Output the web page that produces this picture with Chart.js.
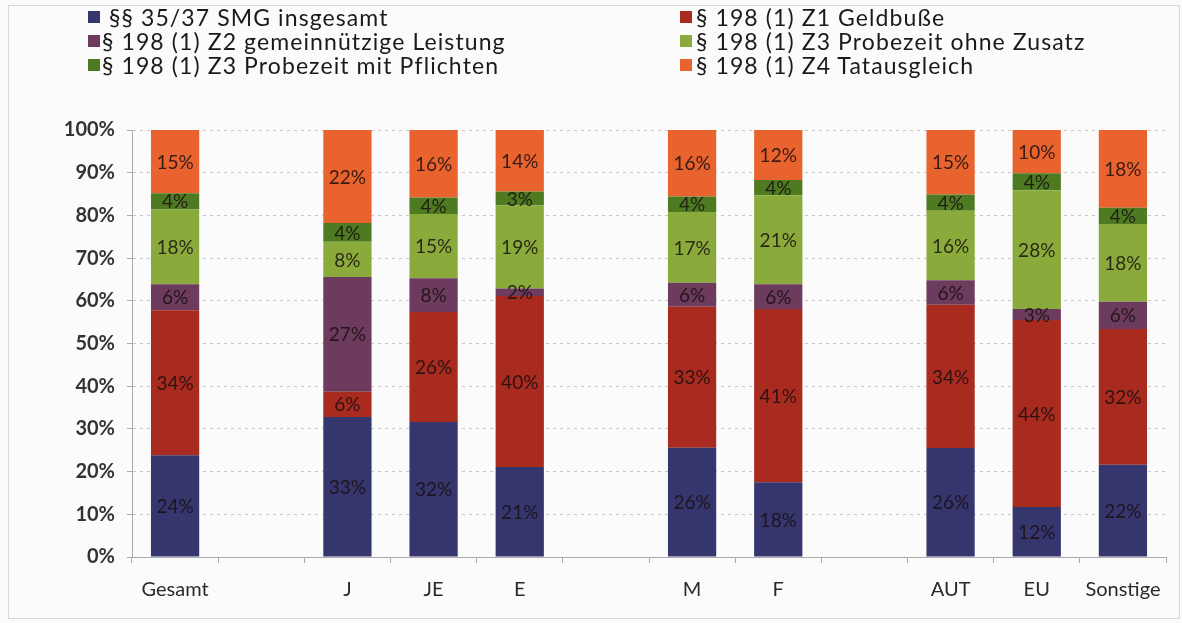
<!DOCTYPE html>
<html><head><meta charset="utf-8">
<script src="https://cdn.jsdelivr.net/npm/chart.js@4/dist/chart.umd.min.js"></script>
<style>
html,body{margin:0;padding:0;background:#fbfbfb;}
#wrap{position:relative;width:1182px;height:623px;overflow:hidden;}
#frame{position:absolute;left:8px;top:5px;width:1172px;height:614px;border:1px solid #d8d8d8;box-sizing:border-box;pointer-events:none;}
#legend{position:absolute;left:0;top:0;width:1182px;height:100px;font-family:Lato,"Open Sans",sans-serif;font-size:23px;letter-spacing:1.1px;color:#1a1a1a;}
.li{position:absolute;height:24px;line-height:24px;white-space:pre;}
.sw{position:absolute;width:12px;height:12px;top:6px;}
.tx{position:absolute;top:0;}
canvas{position:absolute;left:0;top:0;}
</style></head>
<body><div id="wrap"><canvas id="c" width="1182" height="623"></canvas><div id="legend"></div><div id="frame"></div></div>
<script>
const categories = ["Gesamt","","J","JE","E","","M","F","","AUT","EU","Sonstige"];
const seriesNames = [" §§ 35/37 SMG insgesamt","§ 198 (1) Z1 Geldbuße","§ 198 (1) Z2 gemeinnützige Leistung","§ 198 (1) Z3 Probezeit ohne Zusatz","§ 198 (1) Z3 Probezeit mit Pflichten","§ 198 (1) Z4 Tatausgleich"];
const smg      = [23.8,null,32.8,31.6,21.1,null,25.6,17.5,null,25.5,11.7,21.6];
const z1       = [34.0,null, 5.9,25.8,40.0,null,33.0,40.6,null,33.6,43.8,31.8];
const z2       = [ 6.1,null,26.9, 7.9, 1.8,null, 5.6, 5.8,null, 5.7, 2.6, 6.4];
const z3ohne   = [17.5,null, 8.2,15.0,19.4,null,16.6,20.8,null,16.3,27.8,18.2];
const z3mit    = [ 3.8,null, 4.4, 3.9, 3.3,null, 3.6, 3.6,null, 3.8, 4.0, 3.8];
const z4       = [14.8,null,21.8,15.8,14.4,null,15.6,11.7,null,15.1,10.1,18.2];
const yTicks   = [0,10,20,30,40,50,60,70,80,90,100];

const colors = ["#36366f","#a92a1f","#6d3b5e","#8aab3b","#4e7a21","#e9632f"];
const seriesData = [smg,z1,z2,z3ohne,z3mit,z4];
const FONT = "Lato, 'Open Sans', sans-serif";

const labelPlugin = {
  id:'segLabels',
  afterDatasetsDraw(chart){
    const ctx = chart.ctx;
    ctx.save();
    ctx.font = "19px " + FONT;
    ctx.fillStyle = "rgba(25,15,15,0.85)";
    ctx.textAlign = "center";
    ctx.textBaseline = "middle";
    chart.data.datasets.forEach((ds,di)=>{
      const meta = chart.getDatasetMeta(di);
      meta.data.forEach((el,i)=>{
        const v = ds.data[i];
        if (v == null) return;
        const p = el.getProps(['x','y','base'],true);
        ctx.fillText(Math.round(v)+"%", p.x, (p.y+p.base)/2 + 1);
      });
    });
    ctx.restore();
  }
};

const chart = new Chart(document.getElementById('c'), {
  type:'bar',
  data:{
    labels:categories,
    datasets: seriesData.map((d,i)=>({label:seriesNames[i],data:d,backgroundColor:colors[i],borderWidth:0,barPercentage:0.56,categoryPercentage:1.0}))
  },
  options:{
    responsive:false,
    animation:false,
    devicePixelRatio:1,
    layout:{padding:{top:130,right:16,bottom:0,left:0}},
    plugins:{legend:{display:false},tooltip:{enabled:false}},
    scales:{
      x:{
        stacked:true,
        grid:{display:true,drawOnChartArea:false,drawTicks:true,tickLength:6,color:"#aaaaaa",offset:true},
        border:{display:true,color:"#aaaaaa"},
        ticks:{font:{family:FONT,size:20},color:"#2a2a2a",padding:15,maxRotation:0,autoSkip:false},
        afterFit(s){s.height=66;}
      },
      y:{
        stacked:true,min:0,max:100,
        afterBuildTicks(s){s.ticks = yTicks.map(v=>({value:v}));},
        grid:{color:"rgba(0,0,0,0.2)",tickLength:5,drawTicks:true,tickColor:"#aaaaaa"},
        border:{display:true,color:"#aaaaaa",dash:[3,4]},
        ticks:{font:{family:FONT,size:20,weight:'bold'},color:"#333",padding:12,callback:v=>v+"%"},
        afterFit(s){s.width=132;}
      }
    }
  },
  plugins:[labelPlugin]
});

// legend from chart datasets
const leg = document.getElementById('legend');
const colX = [{sw:88,tx:102},{sw:680,tx:696}];
const rowY = [5,29,53];
chart.data.datasets.forEach((ds,i)=>{
  const col = i%2, row = Math.floor(i/2);
  const d = document.createElement('div');
  d.className='li';
  d.style.left='0px'; d.style.top=rowY[row]+'px';
  d.innerHTML = '<span class="sw" style="left:'+colX[col].sw+'px;background:'+ds.backgroundColor+'"></span><span class="tx" style="left:'+colX[col].tx+'px">'+ds.label+'</span>';
  leg.appendChild(d);
});
</script></body></html>
